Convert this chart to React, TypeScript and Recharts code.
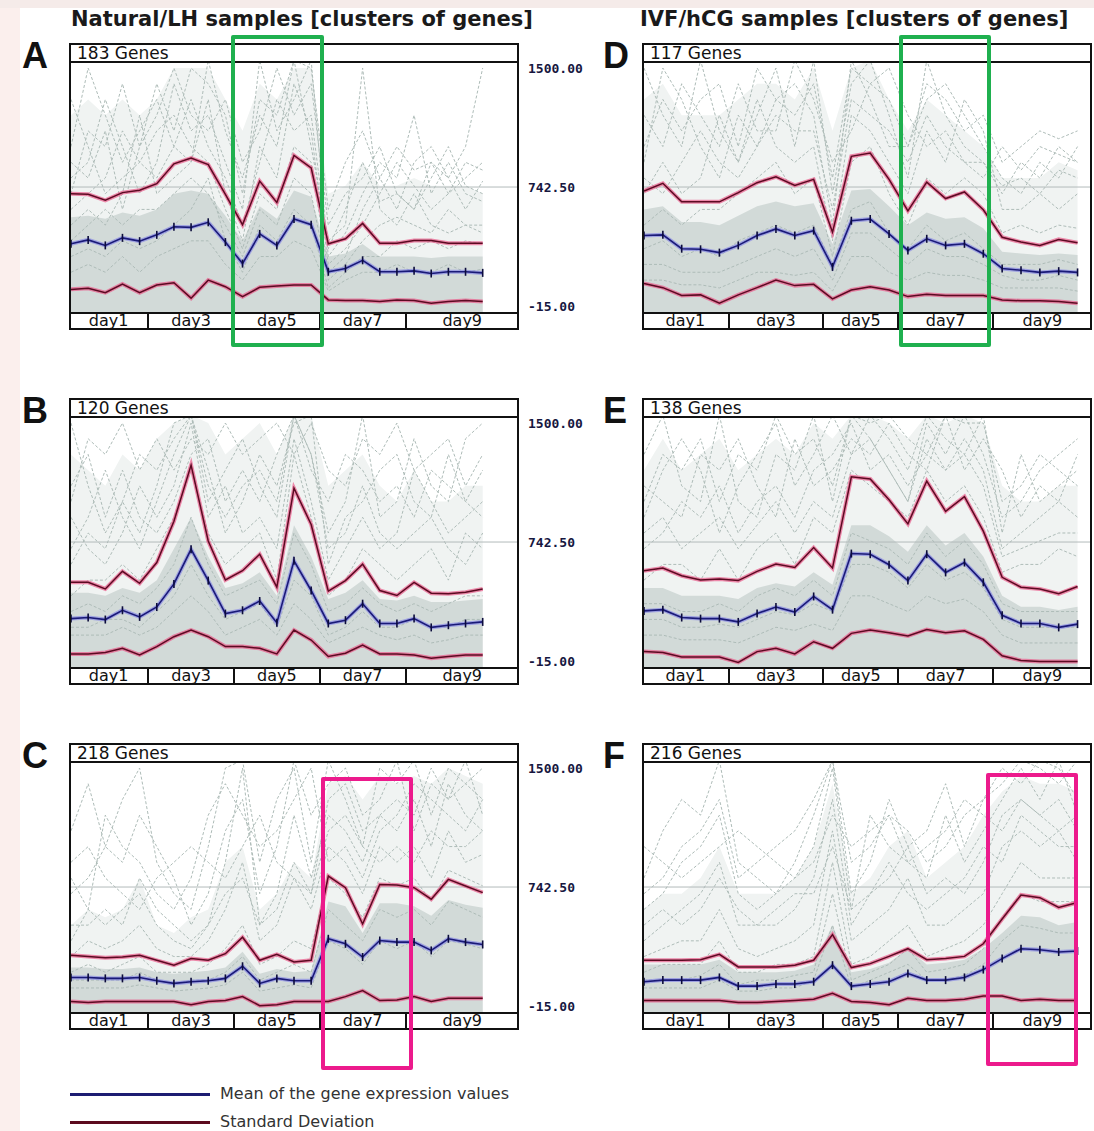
import React from "react";
import { ComposedChart, Line, Area, XAxis, YAxis, ReferenceLine } from "recharts";

// x axis groups (samples per day) and labels
const dayLabels = ["day1", "day3", "day5", "day7", "day9"];
const leftGroups = [5, 5, 5, 5, 5];
const rightGroups = [5, 5, 4, 5, 5];
const yTicks = [-15, 742.5, 1500];
const yDomain = [-53, 1532];

// ---- A: Natural/LH, 183 genes
const aMean = [381, 406, 371, 419, 398, 438, 490, 486, 518, 392, 255, 444, 371, 539, 503, 203, 224, 276, 203, 203, 209, 192, 203, 203, 196];
const aUpper = [700, 696, 658, 707, 722, 764, 890, 927, 885, 696, 503, 780, 644, 944, 864, 381, 413, 511, 385, 385, 402, 402, 385, 385, 385];
const aLower = [91, 98, 70, 125, 70, 119, 133, 35, 150, 108, 45, 104, 112, 119, 119, 24, 20, 20, 14, 24, 20, 3, 14, 20, 14];
const aDense = [550, 560, 540, 580, 560, 600, 700, 720, 700, 560, 400, 620, 540, 720, 680, 300, 320, 380, 300, 300, 300, 290, 300, 300, 300];
const aHaze = [1200, 1300, 1200, 1300, 1200, 1300, 1500, 1500, 1500, 1300, 1100, 1400, 1300, 1500, 1500, 700, 750, 900, 750, 750, 800, 750, 750, 750, 700];
const aGenes = [
  [1000, 1500, 1200, 900, 1100, 1300, 1000, 900, 1550, 1100, 800, 1200, 1000, 1550, 1000, 400, 500, 1500, 600, 500, 700, 500, 450, 500, 500],
  [800, 900, 1300, 1000, 700, 900, 1400, 1100, 1200, 900, 600, 1550, 1100, 1300, 1550, 300, 450, 700, 900, 800, 1200, 700, 900, 700, 650],
  [600, 700, 800, 1100, 900, 800, 1000, 1300, 1000, 800, 500, 900, 1300, 1100, 1200, 350, 600, 900, 650, 700, 600, 800, 1000, 750, 700],
  [500, 600, 500, 700, 1200, 700, 800, 900, 1300, 700, 400, 1000, 800, 1400, 1100, 250, 350, 500, 700, 900, 750, 600, 700, 900, 850],
  [1300, 1000, 700, 800, 900, 1100, 1200, 1000, 900, 600, 350, 700, 600, 1000, 900, 200, 300, 600, 800, 600, 900, 1000, 800, 600, 780],
  [400, 500, 600, 500, 600, 600, 700, 800, 700, 500, 300, 600, 500, 800, 700, 150, 250, 400, 500, 550, 500, 450, 600, 500, 450],
  [300, 350, 300, 400, 350, 400, 500, 600, 800, 400, 200, 500, 400, 600, 500, 100, 200, 300, 300, 400, 350, 400, 350, 400, 380],
  [700, 1100, 1000, 1400, 1000, 1200, 1500, 1200, 1100, 1300, 900, 1100, 1500, 1200, 1400, 500, 700, 800, 1000, 700, 600, 900, 800, 1000, 1500],
  [200, 250, 200, 300, 200, 300, 350, 400, 400, 250, 150, 300, 300, 400, 350, 80, 150, 200, 200, 250, 200, 200, 250, 200, 220],
  [900, 800, 1100, 600, 1000, 1400, 1100, 1500, 1400, 1200, 700, 1300, 1200, 1550, 1500, 600, 900, 1100, 800, 1000, 850, 900, 700, 800, 900],
];

// ---- B: Natural/LH, 120 genes
const bMean = [255, 262, 249, 308, 266, 329, 476, 696, 497, 287, 308, 367, 228, 623, 434, 224, 245, 350, 224, 224, 255, 199, 213, 224, 234];
const bUpper = [486, 486, 444, 556, 480, 612, 875, 1232, 749, 501, 560, 665, 455, 1085, 854, 430, 497, 602, 434, 402, 486, 417, 413, 423, 444];
const bLower = [30, 30, 39, 66, 24, 77, 140, 182, 140, 77, 77, 66, 30, 182, 119, 14, 35, 87, 30, 30, 24, 3, 14, 24, 24];
const bDense = [420, 420, 400, 450, 420, 500, 700, 900, 650, 450, 480, 550, 400, 850, 650, 380, 420, 500, 380, 370, 400, 360, 360, 370, 380];
const bHaze = [1300, 1200, 1100, 1300, 1200, 1400, 1500, 1550, 1500, 1300, 1400, 1500, 1300, 1550, 1550, 1100, 1200, 1300, 1100, 1000, 1200, 1000, 1000, 1100, 1100];
const bGenes = [
  [1500, 1100, 800, 1000, 1300, 1200, 1400, 1550, 1000, 1200, 1400, 1100, 900, 1550, 1300, 800, 1000, 1550, 900, 1000, 1400, 1100, 1000, 1400, 1500],
  [700, 900, 1200, 900, 700, 1000, 1300, 1550, 1200, 800, 1000, 1300, 1100, 1500, 1550, 600, 900, 1000, 1200, 1300, 1000, 900, 1300, 1000, 1200],
  [900, 700, 600, 800, 1100, 900, 1100, 1500, 900, 1100, 800, 900, 700, 1400, 1000, 500, 700, 900, 700, 800, 1200, 1000, 800, 900, 1000],
  [400, 500, 500, 600, 500, 700, 900, 1200, 800, 600, 700, 800, 500, 1300, 900, 400, 500, 700, 600, 500, 600, 700, 500, 800, 700],
  [1100, 1300, 900, 1200, 900, 800, 1000, 1300, 1400, 1000, 1200, 1000, 1300, 1550, 1200, 1000, 1300, 1200, 1000, 1100, 900, 1200, 1100, 1000, 900],
  [300, 350, 300, 400, 350, 450, 600, 900, 600, 400, 450, 500, 350, 800, 600, 300, 350, 450, 350, 300, 350, 300, 350, 400, 400],
  [200, 200, 250, 250, 200, 300, 400, 600, 400, 250, 300, 350, 200, 500, 400, 150, 200, 300, 200, 200, 250, 200, 200, 250, 250],
  [600, 800, 700, 1000, 800, 1100, 1500, 1550, 1100, 900, 1100, 1200, 1000, 1550, 1300, 700, 800, 1100, 800, 700, 800, 900, 700, 600, 800],
  [150, 150, 150, 200, 150, 200, 300, 400, 300, 150, 200, 250, 150, 350, 250, 100, 150, 200, 150, 120, 150, 100, 120, 150, 150],
  [1000, 1400, 1300, 1500, 1200, 1400, 1200, 1400, 1300, 1500, 1300, 1400, 1500, 1300, 1500, 1200, 1100, 1400, 1300, 1500, 1200, 1300, 1400, 1100, 1300],
];

// ---- C: Natural/LH, 218 genes
const cMean = [167, 167, 161, 161, 167, 146, 129, 140, 146, 161, 238, 129, 161, 146, 146, 413, 381, 297, 402, 392, 392, 339, 413, 392, 377];
const cUpper = [308, 301, 293, 297, 308, 276, 245, 287, 276, 318, 423, 276, 314, 266, 276, 812, 738, 507, 759, 755, 738, 665, 791, 749, 707];
const cLower = [14, 7, 14, 14, 14, 14, 14, -7, 14, 20, 45, -13, -7, 14, 14, 14, 45, 83, 20, 24, 45, 14, 35, 35, 35];
const cDense = [230, 230, 220, 220, 230, 200, 190, 200, 210, 230, 330, 190, 220, 200, 210, 650, 620, 450, 640, 640, 620, 560, 660, 630, 610];
const cHaze = [500, 600, 550, 600, 800, 500, 450, 550, 600, 900, 1000, 600, 700, 900, 800, 1400, 1450, 1300, 1450, 1400, 1450, 1400, 1500, 1450, 1400];
const cGenes = [
  [1100, 1400, 1000, 1300, 1500, 900, 700, 600, 1000, 1500, 1550, 900, 1300, 1500, 900, 1550, 1300, 1000, 1500, 1400, 1550, 1200, 1500, 1400, 1300],
  [700, 800, 1000, 900, 1200, 1000, 800, 500, 700, 1100, 1300, 700, 1000, 1550, 1200, 1400, 1500, 1200, 1300, 1550, 1100, 1400, 1300, 1550, 1200],
  [500, 500, 600, 500, 800, 600, 500, 400, 500, 900, 1500, 500, 700, 1200, 800, 1200, 1100, 900, 1200, 1100, 1300, 1000, 1400, 1200, 1100],
  [300, 400, 350, 400, 500, 350, 300, 300, 400, 600, 900, 400, 500, 800, 600, 1000, 900, 700, 1000, 900, 1000, 800, 1100, 900, 950],
  [900, 1000, 800, 700, 600, 800, 900, 1000, 900, 800, 1000, 1200, 900, 800, 700, 1300, 1400, 1100, 1200, 1300, 1200, 1500, 1300, 1400, 1500],
  [200, 250, 200, 250, 300, 200, 200, 200, 250, 350, 500, 250, 300, 400, 350, 800, 700, 550, 800, 750, 800, 650, 850, 800, 750],
  [150, 150, 150, 150, 200, 150, 120, 150, 150, 200, 300, 150, 200, 250, 200, 600, 500, 400, 600, 550, 600, 500, 650, 600, 550],
  [400, 600, 500, 600, 700, 500, 400, 350, 500, 700, 800, 500, 600, 900, 700, 1100, 1200, 1000, 900, 1000, 900, 1100, 1000, 1000, 1100],
  [100, 100, 100, 100, 120, 100, 80, 90, 100, 120, 200, 80, 100, 120, 100, 400, 350, 250, 400, 350, 400, 300, 400, 380, 350],
  [800, 600, 1200, 1000, 900, 700, 600, 800, 1200, 1400, 1200, 1000, 1100, 1300, 1500, 900, 1000, 800, 1100, 1200, 1400, 1300, 1200, 1100, 1300],
];

// ---- D: IVF/hCG, 117 genes
const dMean = [434, 438, 350, 346, 325, 371, 434, 476, 434, 465, 234, 528, 539, 444, 339, 413, 371, 381, 318, 224, 213, 199, 207, 199];
const dUpper = [717, 766, 648, 648, 648, 707, 770, 808, 753, 791, 455, 938, 959, 791, 591, 774, 669, 711, 598, 423, 392, 371, 409, 388];
const dLower = [129, 102, 52, 56, 3, 56, 102, 150, 115, 123, 30, 87, 108, 87, 45, 60, 52, 52, 52, 24, 18, 18, 14, 3];
const dDense = [600, 620, 520, 520, 500, 560, 620, 650, 620, 640, 380, 720, 730, 620, 500, 580, 540, 550, 480, 330, 320, 310, 320, 310];
const dHaze = [1300, 1400, 1200, 1200, 1200, 1300, 1400, 1400, 1300, 1500, 1100, 1500, 1550, 1300, 1100, 1300, 1200, 1100, 1000, 800, 800, 800, 900, 850];
const dGenes = [
  [1500, 1200, 1000, 1550, 1100, 900, 1200, 1500, 1000, 1550, 700, 1400, 1550, 1200, 800, 1550, 1200, 1000, 900, 700, 900, 800, 1000, 900],
  [900, 1500, 1300, 1000, 800, 1200, 1000, 1300, 1400, 1200, 500, 1550, 1300, 1000, 1000, 1300, 1400, 1200, 1000, 800, 700, 900, 800, 1000],
  [700, 900, 700, 800, 1200, 900, 1300, 1000, 900, 1000, 400, 1200, 1100, 900, 700, 1100, 900, 1300, 1100, 600, 600, 700, 600, 700],
  [500, 600, 500, 600, 600, 700, 800, 900, 700, 800, 300, 900, 1000, 700, 500, 800, 700, 800, 700, 450, 500, 450, 500, 480],
  [1200, 1000, 1400, 1200, 1000, 1400, 1100, 1100, 1550, 1300, 900, 1100, 1400, 1500, 1200, 1000, 1100, 900, 800, 1000, 850, 1000, 950, 900],
  [350, 400, 300, 350, 300, 400, 450, 500, 450, 500, 250, 600, 650, 450, 350, 500, 400, 450, 350, 250, 250, 250, 280, 250],
  [250, 250, 200, 200, 200, 250, 300, 350, 300, 350, 150, 450, 450, 350, 250, 350, 300, 300, 250, 180, 150, 150, 180, 150],
  [800, 700, 900, 1100, 900, 800, 1000, 1200, 1100, 1100, 600, 1300, 1200, 1100, 900, 1200, 1000, 900, 900, 750, 800, 700, 850, 800],
  [150, 150, 120, 120, 100, 150, 200, 200, 180, 200, 80, 300, 300, 200, 150, 200, 180, 180, 150, 100, 100, 100, 100, 80],
  [1000, 1300, 1100, 1300, 1400, 1000, 1500, 1300, 1200, 1400, 800, 1500, 1400, 1300, 1000, 1400, 1300, 1100, 1200, 900, 1000, 1100, 1050, 1100],
];

// ---- E: IVF/hCG, 138 genes
const eMean = [304, 312, 262, 255, 255, 234, 287, 329, 297, 396, 312, 669, 665, 598, 497, 665, 549, 612, 486, 276, 224, 224, 199, 220];
const eUpper = [560, 577, 528, 501, 507, 497, 556, 602, 581, 707, 577, 1158, 1144, 1011, 858, 1131, 938, 1032, 812, 518, 455, 444, 413, 459];
const eLower = [45, 39, 10, 10, 10, -24, 45, 66, 30, 108, 66, 161, 182, 165, 144, 186, 165, 178, 123, 18, -11, -18, -18, -18];
const eDense = [450, 450, 400, 400, 400, 380, 450, 480, 460, 550, 470, 850, 850, 780, 680, 850, 720, 800, 650, 400, 330, 330, 310, 330];
const eHaze = [1200, 1400, 1200, 1300, 1400, 1200, 1300, 1400, 1300, 1500, 1400, 1550, 1550, 1500, 1400, 1550, 1500, 1550, 1500, 1100, 1000, 1000, 1100, 1100];
const eGenes = [
  [1300, 1550, 1100, 1000, 1550, 1000, 900, 1300, 1200, 1550, 1000, 1550, 1400, 1200, 1000, 1500, 1300, 1550, 1300, 900, 1000, 1200, 1300, 1400],
  [900, 1200, 1400, 1200, 800, 1100, 1300, 1500, 1100, 1300, 1550, 1300, 1550, 1400, 1200, 1550, 1400, 1300, 1550, 800, 1300, 1000, 1100, 1200],
  [700, 800, 1000, 900, 1100, 800, 1000, 1100, 900, 1200, 1300, 1500, 1200, 1300, 1100, 1300, 1200, 1400, 1200, 700, 800, 900, 1000, 900],
  [500, 600, 600, 500, 700, 500, 700, 800, 600, 900, 800, 1200, 1100, 1000, 900, 1200, 1000, 1100, 900, 550, 600, 600, 700, 650],
  [1100, 1000, 900, 1300, 1200, 1400, 1100, 900, 1400, 1100, 1200, 1400, 1300, 1500, 1300, 1200, 1550, 1200, 1400, 1200, 900, 1100, 1000, 1300],
  [350, 350, 300, 300, 350, 300, 400, 450, 400, 500, 400, 800, 750, 700, 600, 800, 650, 750, 600, 350, 300, 300, 300, 300],
  [250, 250, 200, 200, 220, 200, 250, 300, 280, 350, 300, 600, 600, 550, 450, 600, 500, 550, 450, 250, 200, 200, 200, 200],
  [800, 900, 700, 800, 900, 700, 850, 1000, 800, 1000, 900, 1300, 1400, 1200, 1000, 1400, 1200, 1300, 1100, 650, 700, 750, 800, 800],
  [150, 150, 120, 120, 120, 100, 150, 200, 180, 220, 180, 400, 400, 350, 300, 400, 350, 380, 300, 150, 100, 100, 100, 100],
  [1000, 1300, 1200, 1400, 1000, 1300, 1200, 1550, 1300, 1400, 1100, 1550, 1500, 1550, 1400, 1300, 1550, 1500, 1500, 1000, 1100, 1300, 1200, 1100],
];

// ---- F: IVF/hCG, 216 genes
const fMean = [140, 150, 150, 150, 167, 112, 112, 125, 125, 140, 245, 112, 125, 140, 192, 150, 150, 167, 217, 287, 350, 343, 329, 335];
const fUpper = [276, 276, 276, 280, 314, 234, 234, 234, 245, 276, 440, 230, 255, 301, 350, 280, 287, 301, 381, 539, 692, 675, 612, 644];
const fLower = [20, 20, 20, 20, 20, 7, 7, 14, 20, 28, 66, 14, 7, -7, 35, 20, 20, 28, 49, 49, 20, 28, 20, 20];
const fDense = [250, 250, 250, 250, 280, 200, 200, 200, 210, 250, 500, 200, 220, 260, 350, 250, 260, 280, 350, 450, 560, 550, 500, 520];
const fHaze = [600, 700, 700, 800, 1000, 700, 700, 700, 800, 1000, 1400, 700, 800, 1000, 1100, 800, 900, 1000, 1200, 1350, 1450, 1400, 1400, 1350];
const fGenes = [
  [800, 1100, 1300, 1200, 1550, 900, 800, 700, 900, 1200, 1550, 700, 900, 1300, 1000, 1100, 1400, 1000, 1300, 1500, 1400, 1550, 1500, 1300],
  [600, 700, 900, 1000, 1200, 700, 600, 700, 800, 1000, 1500, 600, 1200, 1000, 900, 800, 1200, 900, 1100, 1300, 1500, 1300, 1550, 1200],
  [400, 500, 600, 700, 900, 500, 500, 500, 600, 800, 1300, 500, 700, 800, 1000, 700, 800, 700, 900, 1200, 1300, 1200, 1300, 1100],
  [300, 350, 400, 400, 600, 350, 300, 350, 400, 500, 1100, 400, 500, 600, 800, 500, 500, 600, 700, 1000, 1100, 1000, 1100, 900],
  [1000, 900, 800, 900, 1000, 1100, 1000, 900, 800, 900, 1200, 1000, 1100, 1200, 900, 1000, 1100, 1300, 1200, 1100, 1300, 1200, 1100, 1200],
  [200, 250, 250, 250, 400, 200, 200, 250, 250, 300, 900, 250, 300, 400, 500, 300, 350, 400, 500, 700, 900, 800, 800, 800],
  [150, 150, 150, 180, 250, 120, 150, 150, 180, 200, 700, 150, 200, 250, 350, 200, 220, 250, 350, 550, 700, 650, 650, 650],
  [500, 600, 500, 600, 800, 600, 500, 600, 700, 700, 1000, 600, 700, 900, 700, 600, 700, 800, 1000, 900, 1200, 1100, 1000, 1000],
  [100, 100, 100, 100, 150, 80, 80, 100, 100, 150, 500, 100, 150, 200, 250, 150, 150, 180, 250, 400, 500, 480, 450, 450],
  [700, 800, 1000, 1100, 1300, 800, 900, 1000, 1100, 1300, 1550, 900, 1000, 1200, 1100, 900, 1000, 1200, 1300, 1400, 1550, 1500, 1400, 1550],
];

const panels = [
  { letter: "A", label: "183 Genes", x: 69, y: 43, mean: aMean, upper: aUpper, lower: aLower, dense: aDense, haze: aHaze, genes: aGenes, groups: leftGroups, xMax: 26, axis: true },
  { letter: "B", label: "120 Genes", x: 69, y: 398, mean: bMean, upper: bUpper, lower: bLower, dense: bDense, haze: bHaze, genes: bGenes, groups: leftGroups, xMax: 26, axis: true },
  { letter: "C", label: "218 Genes", x: 69, y: 743, mean: cMean, upper: cUpper, lower: cLower, dense: cDense, haze: cHaze, genes: cGenes, groups: leftGroups, xMax: 26, axis: true },
  { letter: "D", label: "117 Genes", x: 642, y: 43, mean: dMean, upper: dUpper, lower: dLower, dense: dDense, haze: dHaze, genes: dGenes, groups: rightGroups, xMax: 23.66, axis: false },
  { letter: "E", label: "138 Genes", x: 642, y: 398, mean: eMean, upper: eUpper, lower: eLower, dense: eDense, haze: eHaze, genes: eGenes, groups: rightGroups, xMax: 23.66, axis: false },
  { letter: "F", label: "216 Genes", x: 642, y: 743, mean: fMean, upper: fUpper, lower: fLower, dense: fDense, haze: fHaze, genes: fGenes, groups: rightGroups, xMax: 23.66, axis: false },
];

const BOX_W = 450;
const INNER_W = 446;
const PLOT_H = 249;
const PAD = 12; // room above/below the plot so the axis labels are not clipped

const meanTick = (p: any) => (
  <line key={`t-${p.index}`} x1={p.cx} x2={p.cx} y1={p.cy - 4} y2={p.cy + 4} stroke="#0c0c3c" strokeWidth={1.6} />
);

function Panel(props: any) {
  const { letter, label, x, y, mean, upper, lower, dense, haze, genes, groups, xMax, axis } = props;

  const rows = mean.map((m: number, i: number) => {
    const r: any = { i, mean: m, up: upper[i], lo: lower[i], dense: dense[i], haze: haze[i] };
    genes.forEach((g: number[], k: number) => (r["g" + k] = g[i]));
    return r;
  });

  // day separators sit half way between the last sample of a day and the next
  const edges = [0];
  let acc = 0;
  groups.slice(0, -1).forEach((g: number) => {
    acc += g;
    edges.push(2 + ((acc - 0.5) / xMax) * INNER_W);
  });
  edges.push(BOX_W);

  const chartW = INNER_W + (axis ? 90 : 0);

  return (
    <>
      <div style={{ position: "absolute", left: x < 300 ? 22 : 603, top: y - 5, fontFamily: "Liberation Sans", fontWeight: 700, fontSize: 36, lineHeight: "36px", color: "#111" }}>
        {letter}
      </div>

      <div style={{ position: "absolute", left: x + 2, top: y + 20 - PAD }}>
        <ComposedChart width={chartW} height={PLOT_H + 2 * PAD} data={rows} margin={{ top: PAD, right: 0, bottom: PAD, left: 0 }}>
          <XAxis type="number" dataKey="i" domain={[0, xMax]} hide />
          <YAxis
            type="number"
            domain={yDomain}
            allowDataOverflow
            orientation="right"
            ticks={yTicks}
            interval={0}
            hide={!axis}
            width={90}
            tickLine={false}
            axisLine={false}
            tickMargin={5}
            tickFormatter={(v: number) => v.toFixed(2)}
            tick={{ fill: "#17173f", fontSize: 13, fontFamily: "DejaVu Sans Mono", fontWeight: 700 }}
          />
          <Area type="linear" dataKey="haze" baseValue={-53} fill="#f0f3f2" fillOpacity={1} stroke="none" isAnimationActive={false} />
          <Area type="linear" dataKey="dense" baseValue={-53} fill="#d2dad8" fillOpacity={1} stroke="none" isAnimationActive={false} />
          {genes.map((_: number[], k: number) => (
            <Line key={k} type="linear" dataKey={"g" + k} stroke="#aebcb8" strokeWidth={1} strokeDasharray="3 2" dot={false} isAnimationActive={false} />
          ))}
          <ReferenceLine y={742.5} stroke="#b3baba" strokeWidth={1} />
          <Line type="linear" dataKey="lo" stroke="#ea5a8a" strokeOpacity={0.7} strokeWidth={4} dot={false} isAnimationActive={false} />
          <Line type="linear" dataKey="lo" stroke="#5c0a22" strokeWidth={1.5} dot={false} isAnimationActive={false} />
          <Line type="linear" dataKey="up" stroke="#ea5a8a" strokeOpacity={0.7} strokeWidth={4} dot={false} isAnimationActive={false} />
          <Line type="linear" dataKey="up" stroke="#5c0a22" strokeWidth={1.5} dot={false} isAnimationActive={false} />
          <Line type="linear" dataKey="mean" stroke="#7c7ce6" strokeOpacity={0.6} strokeWidth={4} dot={false} isAnimationActive={false} />
          <Line type="linear" dataKey="mean" stroke="#1a1a78" strokeWidth={1.6} dot={meanTick} isAnimationActive={false} />
        </ComposedChart>
      </div>

      {/* header and day band backgrounds */}
      <div style={{ position: "absolute", left: x + 2, top: y + 2, width: BOX_W - 4, height: 16, background: "#fff" }} />
      <div style={{ position: "absolute", left: x + 2, top: y + 271, width: BOX_W - 4, height: 14, background: "#fff" }} />
      <div style={{ position: "absolute", left: x + 8, top: y + 1, fontFamily: "DejaVu Sans", fontSize: 17, lineHeight: "18px", color: "#111", whiteSpace: "nowrap" }}>
        {label}
      </div>
      {dayLabels.map((d, k) => (
        <div
          key={d}
          style={{
            position: "absolute",
            left: x + edges[k],
            top: y + 270,
            width: edges[k + 1] - edges[k],
            textAlign: "center",
            fontFamily: "DejaVu Sans",
            fontSize: 16,
            lineHeight: "16px",
            color: "#111",
            whiteSpace: "nowrap",
          }}
        >
          {d}
        </div>
      ))}

      {/* frame: header, plot and day band */}
      <div style={{ position: "absolute", left: x, top: y, width: BOX_W, height: 287, boxSizing: "border-box", border: "2px solid #111", pointerEvents: "none" }} />
      <div style={{ position: "absolute", left: x, top: y + 18, width: BOX_W, height: 2, background: "#111" }} />
      <div style={{ position: "absolute", left: x, top: y + 269, width: BOX_W, height: 2, background: "#111" }} />
      {edges.slice(1, -1).map((e, k) => (
        <div key={k} style={{ position: "absolute", left: x + e - 1, top: y + 269, width: 2, height: 18, background: "#111" }} />
      ))}
    </>
  );
}

export default function App() {
  return (
    <div style={{ position: "absolute", left: 0, top: 0, width: 1094, height: 1131, background: "#fbefed", overflow: "hidden" }}>
      <div style={{ position: "absolute", left: 20, top: 8, right: 0, bottom: 0, background: "#ffffff" }} />
      <div style={{ position: "absolute", left: 0, top: 0, width: 1094, height: 8, background: "#f5ebe9" }} />

      <div style={{ position: "absolute", left: 71, top: 9, fontFamily: "DejaVu Sans", fontWeight: 700, fontSize: 21, lineHeight: "21px", color: "#1a1a1a", whiteSpace: "nowrap" }}>
        Natural/LH samples [clusters of genes]
      </div>
      <div style={{ position: "absolute", left: 640, top: 9, fontFamily: "DejaVu Sans", fontWeight: 700, fontSize: 21, lineHeight: "21px", color: "#1a1a1a", whiteSpace: "nowrap" }}>
        IVF/hCG samples [clusters of genes]
      </div>

      {panels.map((p) => (
        <Panel key={p.letter} {...p} />
      ))}

      {/* highlight boxes */}
      <div style={{ position: "absolute", left: 231, top: 35, width: 93, height: 312, boxSizing: "border-box", border: "4px solid #1fb04f", borderRadius: 2 }} />
      <div style={{ position: "absolute", left: 899, top: 35, width: 92, height: 312, boxSizing: "border-box", border: "4px solid #1fb04f", borderRadius: 2 }} />
      <div style={{ position: "absolute", left: 321, top: 777, width: 92, height: 293, boxSizing: "border-box", border: "4px solid #ec1a8c", borderRadius: 2 }} />
      <div style={{ position: "absolute", left: 986, top: 773, width: 92, height: 293, boxSizing: "border-box", border: "4px solid #ec1a8c", borderRadius: 2 }} />

      {/* legend */}
      <div style={{ position: "absolute", left: 70, top: 1093, width: 140, height: 3, background: "#1c1c72" }} />
      <div style={{ position: "absolute", left: 220, top: 1085, fontFamily: "DejaVu Sans", fontSize: 16, lineHeight: "18px", color: "#333", whiteSpace: "nowrap" }}>
        Mean of the gene expression values
      </div>
      <div style={{ position: "absolute", left: 70, top: 1121, width: 140, height: 3, background: "#5c0a1e" }} />
      <div style={{ position: "absolute", left: 220, top: 1113, fontFamily: "DejaVu Sans", fontSize: 16, lineHeight: "18px", color: "#333", whiteSpace: "nowrap" }}>
        Standard Deviation
      </div>
    </div>
  );
}
